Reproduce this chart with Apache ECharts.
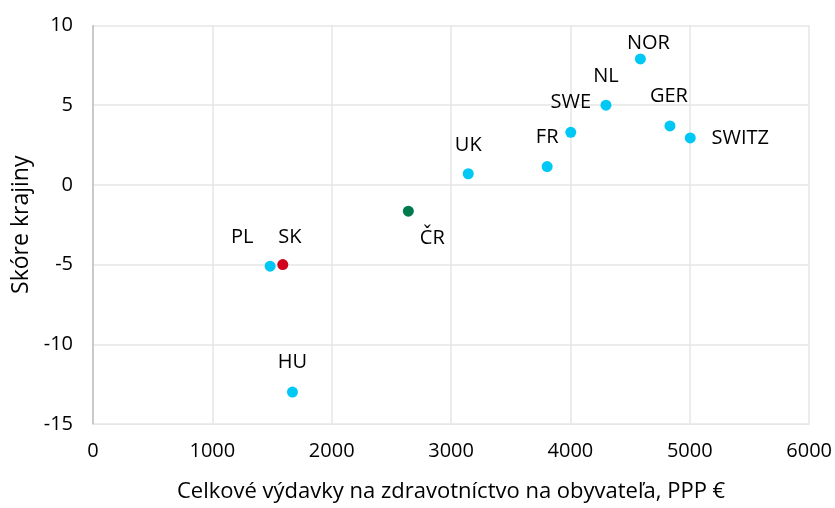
<!DOCTYPE html>
<html>
<head>
<meta charset="utf-8">
<script src="https://cdn.jsdelivr.net/npm/echarts@6/dist/echarts.min.js"></script>
<style>html,body{margin:0;padding:0;background:#fff}#c{width:835px;height:508px}</style>
</head>
<body>
<div id="c"></div>
<script>
const countries = ['PL','SK','HU','ČR','UK','FR','SWE','NL','NOR','GER','SWITZ'];
const spending = [1484, 1590, 1671, 2642, 3144, 3805, 4003, 4298, 4586, 4834, 5004];
const score = [-5.1, -5.0, -13.0, -1.65, 0.7, 1.15, 3.3, 5.0, 7.9, 3.7, 2.95];
const xTicks = [0, 1000, 2000, 3000, 4000, 5000, 6000];
const yTicks = [-15, -10, -5, 0, 5, 10];
const xTitle = 'Celkové výdavky na zdravotníctvo na obyvateľa, PPP €';
const yTitle = 'Skóre krajiny';

// styling (not data)
const pointColor = {SK: '#d0021b', 'ČR': '#007a4c'};
const defaultColor = '#00c8f5';
const SYM = 11;
const labelOffset = {
  PL: [-28, -29], SK: [7, -27], HU: [0, -30], 'ČR': [24, 27], UK: [0, -28],
  FR: [0, -29], SWE: [0, -30], NL: [0, -29], NOR: [8, -16], GER: [-1, -30], SWITZ: [50, 0]
};
const FONT = '"Open Sans", sans-serif';
const TXT = '#000000';

const data = countries.map((c, i) => ({
  name: c,
  value: [spending[i], score[i]],
  itemStyle: {color: pointColor[c] || defaultColor, opacity: 1},
  label: {
    show: true,
    position: [SYM / 2 + labelOffset[c][0], SYM / 2 + labelOffset[c][1]],
    align: 'center', verticalAlign: 'middle',
    formatter: c
  }
}));

const chart = echarts.init(document.getElementById('c'), null, {renderer: 'canvas'});
chart.setOption({
  animation: false,
  backgroundColor: '#fff',
  grid: {left: 93, right: 25, top: 25.5, bottom: 82.5, containLabel: false},
  xAxis: {
    type: 'value', min: xTicks[0], max: xTicks[xTicks.length - 1], interval: 1000,
    name: xTitle, nameLocation: 'middle', nameGap: 57,
    nameTextStyle: {fontFamily: FONT, fontSize: 22, color: TXT},
    axisLine: {show: true, onZero: false, lineStyle: {color: '#e6e6e6'}},
    axisTick: {show: false},
    axisLabel: {fontFamily: FONT, fontSize: 20, color: TXT, margin: 17, formatter: v => String(v)},
    splitLine: {show: true, lineStyle: {color: '#e6e6e6', width: 1.5}}
  },
  yAxis: {
    type: 'value', min: yTicks[0], max: yTicks[yTicks.length - 1], interval: 5,
    name: yTitle, nameLocation: 'middle', nameGap: 59, nameRotate: 90,
    nameTextStyle: {fontFamily: FONT, fontSize: 23, color: TXT},
    axisLine: {show: true, onZero: false, lineStyle: {color: '#bfbfbf', width: 1.5}},
    axisTick: {show: false},
    axisLabel: {fontFamily: FONT, fontSize: 20, color: TXT, margin: 20, formatter: v => String(v)},
    splitLine: {show: true, lineStyle: {color: '#e6e6e6', width: 1.5}}
  },
  series: [{
    type: 'scatter',
    symbol: 'circle',
    symbolSize: SYM,
    data: data,
    itemStyle: {opacity: 1},
    label: {fontFamily: FONT, fontSize: 20, color: TXT},
    labelLayout: {hideOverlap: false}
  }]
});
</script>
</body>
</html>
